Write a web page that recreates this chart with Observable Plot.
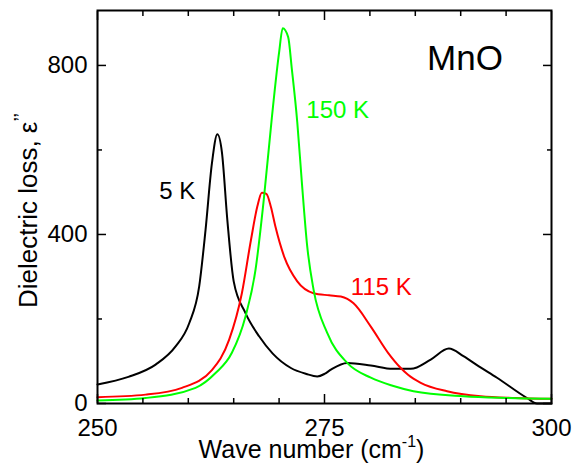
<!DOCTYPE html>
<html><head><meta charset="utf-8">
<script src="https://cdn.jsdelivr.net/npm/d3@7"></script>
<script src="https://cdn.jsdelivr.net/npm/@observablehq/plot@0.6"></script>
<style>body{margin:0;background:#fff}</style>
</head><body><div id="chart"></div>
<script>
// 5 K (black)
const wave5K = [250,253.4,256.4,258.6,260.1,261.2,261.9,262.6,263.2,263.7,264.3,265.0,266.3,267.8,269.3,271.3,273.0,274.2,275.0,275.7,277.5,280.1,282.5,284.5,286.7,288.7,290.3,292.0,294.0,297.3,298.4,300];
const loss5K = [45,63,92,135,190,277,411,568,637,595,434,289,214,159,118,84,70,64,70,80,96,90,82,82,104,130,112,88,61,13,0,0];
// 115 K (red)
const wave115K = [250,255.3,259.3,262.6,264.5,265.9,266.9,267.6,268.1,268.6,269.1,269.6,270.6,272.0,273.8,275.5,276.8,278.2,280.1,282.0,283.4,284.2,285.6,288.5,292.2,296,300];
const loss115K = [15,21,37,79,151,261,387,466,499,496,465,418,345,289,261,256,253,237,182,120,84,68,49,29,17,13,11];
// 150 K (green)
const wave150K = [250,255.3,260.8,263.0,264.8,266.3,267.4,268.3,269.2,270.0,270.4,271.0,271.4,272.0,272.5,273.1,273.8,275.3,277.5,280.1,282.5,284.8,290.3,295,300];
const loss150K = [7,13,37,72,120,206,316,480,676,831,888,867,792,666,525,371,269,167,96,61,42,29,17,13,11];

const seriesNames = ["5 K", "115 K", "150 K"];
const seriesColors = ["#000000", "#ff0000", "#00ff00"];
const labelWave = [256.8, 277.9, 273.0];
const labelLoss = [502, 274, 694];
const sampleName = ["MnO"];
const sampleWave = [286.3];
const sampleLoss = [815];

const xMajor = [250, 275, 300];
const xMinor = [255, 260, 265, 270, 280, 285, 290, 295];
const yMajor = [0, 400, 800];
const yMinor = [200, 600];
const xTitle = "Wave number (cm-1)";
const yTitle = "Dielectric loss, ε''";

const waves = [wave5K, wave115K, wave150K];
const losses = [loss5K, loss115K, loss150K];
const rows = [];
seriesNames.forEach((s, k) => waves[k].forEach((w, i) => rows.push({series: s, wave: w, loss: losses[k][i]})));
const labels = seriesNames.map((s, k) => ({series: s, wave: labelWave[k], loss: labelLoss[k]}));

const tickStyle = {strokeWidth: 1.5, label: null};
const none = () => "";

const svg = Plot.plot({
  width: 579, height: 464,
  marginLeft: 97, marginRight: 28, marginTop: 10, marginBottom: 61,
  style: {fontFamily: "'Liberation Sans', Arial, sans-serif", fontSize: "24px", background: "#fff", color: "#000"},
  x: {domain: [250, 300]},
  y: {domain: [0, 930]},
  color: {domain: seriesNames, range: seriesColors},
  marks: [
    Plot.line(rows, {x: "wave", y: "loss", z: "series", stroke: "series", strokeWidth: 2, curve: "monotone-x"}),
    Plot.text(labels, {x: "wave", y: "loss", text: "series", fill: "series", textAnchor: "start", lineAnchor: "middle", fontSize: 24}),
    Plot.text(sampleName, {x: sampleWave, y: sampleLoss, text: d => d, textAnchor: "start", lineAnchor: "middle", fontSize: 35, fill: "#000"}),
    Plot.axisX(xMajor, {anchor: "bottom", tickSize: -9, tickPadding: 24, tickFormat: d => String(d), ...tickStyle}),
    Plot.axisX(xMinor, {anchor: "bottom", tickSize: -5, tickFormat: none, ...tickStyle}),
    Plot.axisX(xMajor, {anchor: "top", tickSize: -9, tickFormat: none, ...tickStyle}),
    Plot.axisX(xMinor, {anchor: "top", tickSize: -5, tickFormat: none, ...tickStyle}),
    Plot.axisY(yMajor, {anchor: "left", tickSize: -9, tickPadding: 19, tickFormat: d => String(d), ...tickStyle}),
    Plot.axisY(yMinor, {anchor: "left", tickSize: -5, tickFormat: none, ...tickStyle}),
    Plot.axisY(yMajor, {anchor: "right", tickSize: -9, tickFormat: none, ...tickStyle}),
    Plot.axisY(yMinor, {anchor: "right", tickSize: -5, tickFormat: none, ...tickStyle}),
    Plot.text([xTitle], {frameAnchor: "bottom", dy: 46, dx: -13, text: d => d, textAnchor: "middle", lineAnchor: "middle", fontSize: 25, fill: "#000"}),
    Plot.text([yTitle], {frameAnchor: "left", dx: -69, dy: 3.5, rotate: -90, text: d => d, textAnchor: "middle", lineAnchor: "middle", fontSize: 26, fill: "#000"}),
    Plot.frame({stroke: "#000", strokeWidth: 2})
  ]
});
document.getElementById("chart").appendChild(svg);

// superscripts in the axis titles
d3.select(svg).selectAll("text").each(function () {
  const t = d3.select(this);
  const s = t.text();
  if (s === xTitle) {
    t.text("");
    t.append("tspan").text("Wave number (cm");
    t.append("tspan").attr("font-size", 16).attr("dy", -11).text("-1");
    t.append("tspan").attr("dy", 11).text(")");
  } else if (s === yTitle) {
    t.text("");
    t.append("tspan").text("Dielectric loss, ε");
    t.append("tspan").attr("font-size", 20).attr("dy", -9).text("’’");
  }
});
</script>
</body></html>
